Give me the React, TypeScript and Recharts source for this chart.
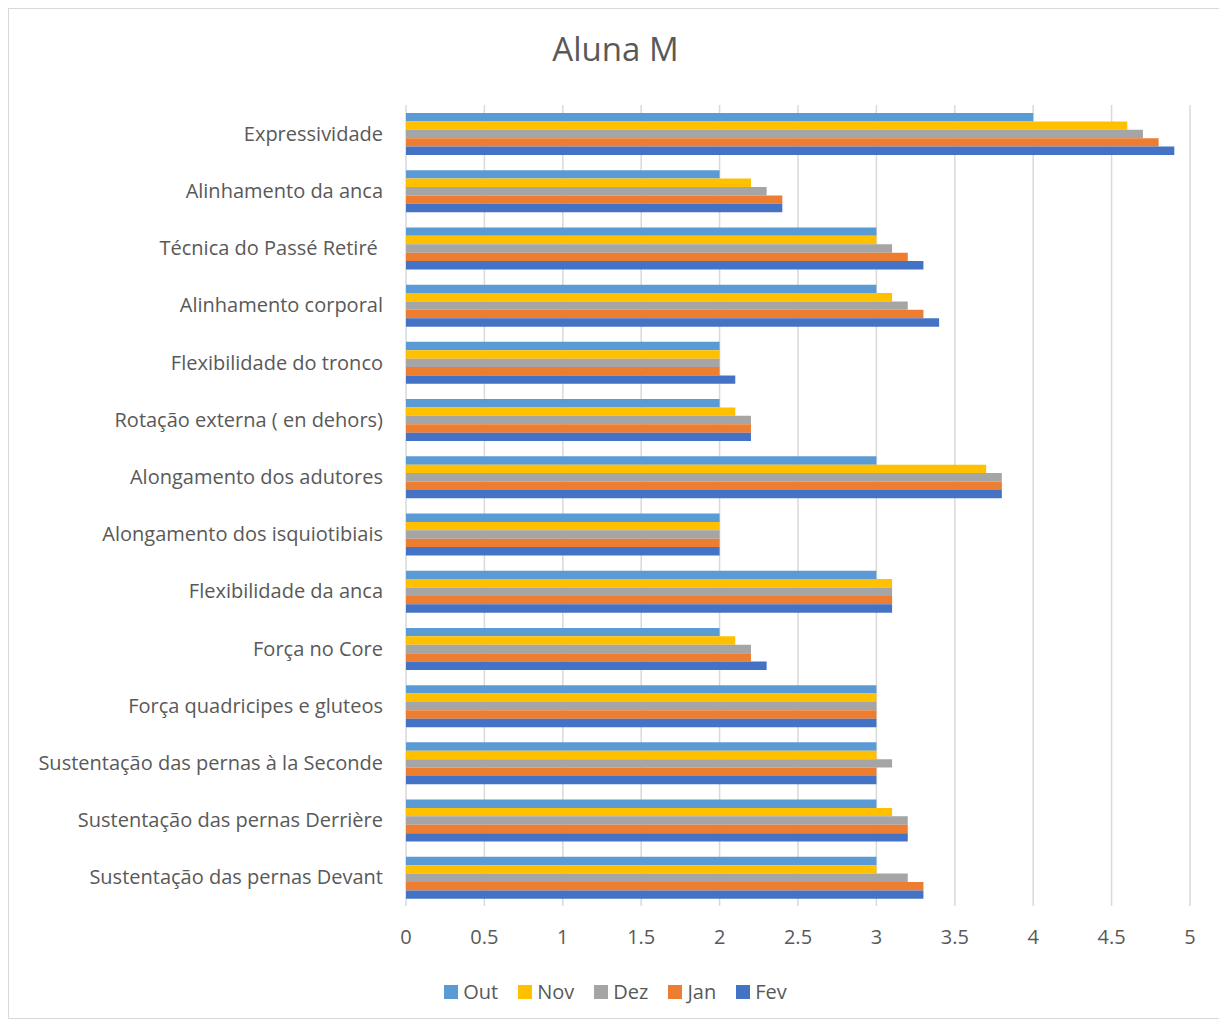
import React from 'react';
import { BarChart, Bar, XAxis, YAxis, CartesianGrid } from 'recharts';

const categories = [
  'Expressividade',
  'Alinhamento da anca',
  'Técnica do Passé Retiré\u00a0',
  'Alinhamento corporal',
  'Flexibilidade do tronco',
  'Rotação externa ( en dehors)',
  'Alongamento dos adutores',
  'Alongamento dos isquiotibiais',
  'Flexibilidade da anca',
  'Força no Core',
  'Força quadricipes e gluteos',
  'Sustentação das pernas à la Seconde',
  'Sustentação das pernas Derrière',
  'Sustentação das pernas Devant',
];
const outValues = [4, 2, 3, 3, 2, 2, 3, 2, 3, 2, 3, 3, 3, 3];
const novValues = [4.6, 2.2, 3, 3.1, 2, 2.1, 3.7, 2, 3.1, 2.1, 3, 3, 3.1, 3];
const dezValues = [4.7, 2.3, 3.1, 3.2, 2, 2.2, 3.8, 2, 3.1, 2.2, 3, 3.1, 3.2, 3.2];
const janValues = [4.8, 2.4, 3.2, 3.3, 2, 2.2, 3.8, 2, 3.1, 2.2, 3, 3, 3.2, 3.3];
const fevValues = [4.9, 2.4, 3.3, 3.4, 2.1, 2.2, 3.8, 2, 3.1, 2.3, 3, 3, 3.2, 3.3];
const xTicks = [0, 0.5, 1, 1.5, 2, 2.5, 3, 3.5, 4, 4.5, 5];

const seriesNames = ['Out', 'Nov', 'Dez', 'Jan', 'Fev'];
const seriesColors = ['#5B9BD5', '#FFC000', '#A5A5A5', '#ED7D31', '#4472C4'];

const data = categories.map((c, i) => ({
  name: c,
  Out: outValues[i],
  Nov: novValues[i],
  Dez: dezValues[i],
  Jan: janValues[i],
  Fev: fevValues[i],
}));

const FONT = '"Open Sans", sans-serif';

export default function App() {
  return (
    <div
      style={{
        position: 'relative',
        width: 1213,
        height: 1009,
        border: '1px solid #d9d9d9',
        background: '#fff',
        fontFamily: FONT,
      }}
    >
      <div
        style={{
          position: 'absolute',
          top: 17,
          left: 0,
          width: 1213,
          textAlign: 'center',
          fontSize: 33,
          color: '#595959',
          fontFamily: FONT,
          zIndex: 2,
        }}
      >
        Aluna M
      </div>
      <BarChart
        width={1213}
        height={1009}
        data={data}
        layout="vertical"
        margin={{ top: 96, right: 32, bottom: 0, left: 0 }}
        barSize={8.4}
        barGap={0}
      >
        <CartesianGrid horizontal={false} stroke="#d9d9d9" strokeWidth={1.5} />
        <XAxis
          type="number"
          domain={[0, 5]}
          ticks={xTicks}
          axisLine={false}
          tickLine={false}
          tickSize={0}
          tickMargin={24}
          height={112}
          tick={{ fill: '#595959', fontSize: 20, fontFamily: FONT }}
        />
        <YAxis
          type="category"
          dataKey="name"
          width={397}
          axisLine={false}
          tickLine={false}
          tickSize={0}
          tickMargin={23}
          interval={0}
          tick={{ fill: '#595959', fontSize: 20, fontFamily: FONT }}
        />
        {seriesNames.map((s, i) => (
          <Bar key={s} dataKey={s} fill={seriesColors[i]} isAnimationActive={false} />
        ))}
      </BarChart>
      <div
        style={{
          position: 'absolute',
          top: 969,
          left: 0,
          width: 1213,
          display: 'flex',
          justifyContent: 'center',
          gap: 20,
          fontSize: 20,
          color: '#595959',
          fontFamily: FONT,
        }}
      >
        {seriesNames.map((s, i) => (
          <div key={s} style={{ display: 'flex', alignItems: 'center' }}>
            <span
              style={{
                display: 'inline-block',
                width: 14,
                height: 14,
                background: seriesColors[i],
                marginRight: 5,
              }}
            />
            <span>{s}</span>
          </div>
        ))}
      </div>
    </div>
  );
}
